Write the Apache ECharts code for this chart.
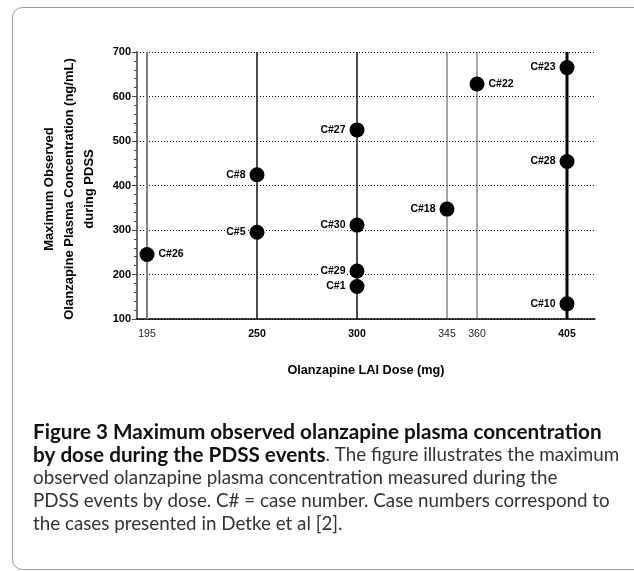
<!DOCTYPE html>
<html>
<head>
<meta charset="utf-8">
<script src="https://cdn.jsdelivr.net/npm/echarts@6/dist/echarts.min.js"></script>
<style>
html,body{margin:0;padding:0;background:#fff;}
#c{width:634px;height:571px;}
</style>
</head>
<body>
<div id="c"></div>
<script>
// ---- data ----
const doses = [195, 250, 250, 300, 300, 300, 300, 345, 360, 405, 405, 405];
const concentrations = [245, 424, 295, 525, 311, 208, 173, 347, 628, 665, 454, 134];
const caseLabels = ['C#26', 'C#8', 'C#5', 'C#27', 'C#30', 'C#29', 'C#1', 'C#18', 'C#22', 'C#23', 'C#28', 'C#10'];
const doseTicks = [195, 250, 300, 345, 360, 405];
const boldDoseTicks = [250, 300, 405];
const yTicks = [100, 200, 300, 400, 500, 600, 700];
const rightSideLabels = ['C#26', 'C#22'];

const yTitle = ['Maximum Observed', 'Olanzapine Plasma Concentration (ng/mL)', 'during PDSS'];
const xTitle = 'Olanzapine LAI Dose (mg)';
const captionBold1 = 'Figure 3 Maximum observed olanzapine plasma concentration';
const captionBold2 = 'by dose during the PDSS events';
const captionRest2 = '. The figure illustrates the maximum';
const captionLines = [
  'observed olanzapine plasma concentration measured during the',
  'PDSS events by dose. C# = case number. Case numbers correspond to',
  'the cases presented in Detke et al [2].'
];

// ---- styles (not data) ----
const lineStyles = {
  195: {color: '#808080', width: 2},
  250: {color: '#111', width: 1.5},
  300: {color: '#111', width: 1.5},
  345: {color: '#444', width: 1},
  360: {color: '#555', width: 1},
  405: {color: '#000', width: 3}
};

const chart = echarts.init(document.getElementById('c'), null, {renderer: 'canvas'});

const yMin = yTicks[0], yMax = yTicks[yTicks.length - 1];

const verticalSeries = doseTicks.map(d => ({
  type: 'line',
  silent: true,
  symbol: 'none',
  z: 1,
  data: [[d, yMin], [d, yMax]],
  lineStyle: lineStyles[d],
  animation: false
}));

const pointData = doses.map((d, i) => ({
  value: [d, concentrations[i]],
  label: {position: rightSideLabels.includes(caseLabels[i]) ? 'right' : 'left'},
  name: caseLabels[i]
}));

const FONT = '"Liberation Sans", Arial, sans-serif';
const CAPFONT = 'Lato, sans-serif';

chart.setOption({
  animation: false,
  backgroundColor: '#fff',
  grid: {left: 137, right: 39, top: 52, bottom: 252, containLabel: false},
  xAxis: {
    type: 'value',
    min: 190,
    max: 419,
    axisLine: {show: true, lineStyle: {color: '#000', width: 1.5}},
    axisTick: {show: false},
    splitLine: {show: false},
    axisLabel: {
      customValues: doseTicks,
      margin: 10,
      formatter: v => (boldDoseTicks.includes(v) ? '{b|' + v + '}' : '{n|' + v + '}'),
      rich: {
        b: {fontFamily: FONT, fontWeight: 'bold', fontSize: 10.5, color: '#000'},
        n: {fontFamily: FONT, fontWeight: 'normal', fontSize: 10.5, color: '#222'}
      }
    }
  },
  yAxis: {
    type: 'value',
    min: yMin,
    max: yMax,
    interval: 100,
    axisLine: {show: true, lineStyle: {color: '#6a6a6a', width: 2}},
    axisTick: {show: true, length: 5, lineStyle: {color: '#444', width: 1}},
    minorTick: {show: true, splitNumber: 5, length: 3, lineStyle: {color: '#444', width: 1}},
    splitLine: {show: true, lineStyle: {color: '#000', width: 1, type: [1, 2]}},
    axisLabel: {fontFamily: FONT, fontWeight: 'bold', fontSize: 11, color: '#000', margin: 6}
  },
  series: verticalSeries.concat([{
    type: 'scatter',
    z: 5,
    symbol: 'circle',
    symbolSize: 15,
    itemStyle: {color: '#000', opacity: 1},
    data: pointData,
    label: {
      show: true,
      formatter: p => p.name,
      fontFamily: FONT,
      fontWeight: 'bold',
      fontSize: 10.5,
      color: '#000',
      distance: 3,
      backgroundColor: '#fff',
      padding: [0, 1]
    }
  }]),
  graphic: [
    {
      type: 'rect',
      shape: {x: 12.5, y: 7.5, width: 640, height: 562, r: 10},
      style: {fill: 'none', stroke: '#9a9a9a', lineWidth: 1},
      z: 0
    },
    {
      type: 'text',
      x: 69, y: 189,
      rotation: Math.PI / 2,
      style: {
        text: yTitle.join('\n'),
        fontFamily: FONT, fontWeight: 'bold', fontSize: 13, lineHeight: 20,
        fill: '#000', align: 'center', verticalAlign: 'middle'
      }
    },
    {
      type: 'text',
      x: 366, y: 370,
      style: {
        text: xTitle,
        fontFamily: FONT, fontWeight: 'bold', fontSize: 12.7,
        fill: '#000', align: 'center', verticalAlign: 'middle'
      }
    },
    {
      type: 'text',
      x: 33, y: 432,
      style: {
        text: captionBold1,
        fontFamily: CAPFONT, fontWeight: 'bold', fontSize: 20.7,
        fill: '#111', align: 'left', verticalAlign: 'middle'
      }
    },
    {
      type: 'text',
      x: 33, y: 455,
      style: {
        text: '{b|' + captionBold2 + '}{n|' + captionRest2 + '}',
        align: 'left', verticalAlign: 'middle',
        rich: {
          b: {fontFamily: CAPFONT, fontWeight: 'bold', fontSize: 20.7, fill: '#111'},
          n: {fontFamily: CAPFONT, fontWeight: 'normal', fontSize: 18.8, fill: '#333'}
        }
      }
    }
  ].concat(captionLines.map((t, i) => ({
    type: 'text',
    x: 33, y: 478 + i * 23,
    style: {
      text: t,
      fontFamily: CAPFONT, fontWeight: 'normal', fontSize: 18.8,
      fill: '#333', align: 'left', verticalAlign: 'middle'
    }
  })))
});
</script>
</body>
</html>
